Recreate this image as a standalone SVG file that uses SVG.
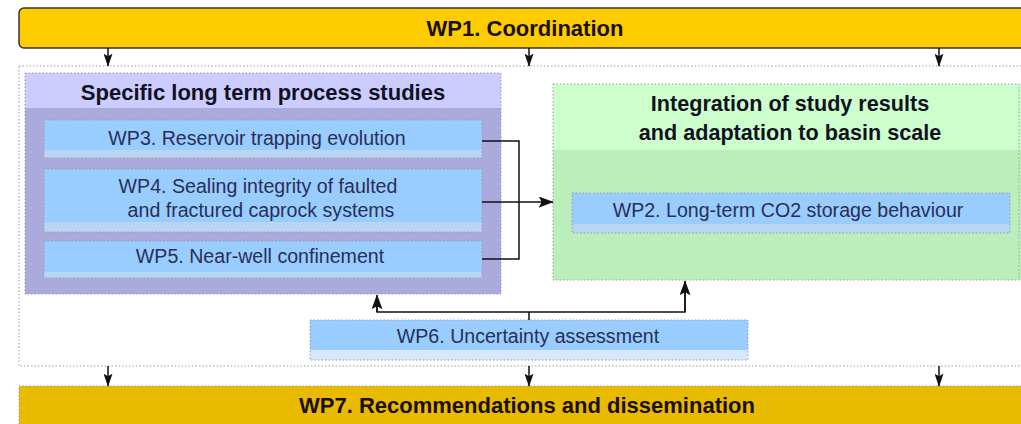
<svg xmlns="http://www.w3.org/2000/svg" width="1021" height="424" viewBox="0 0 1021 424">
<defs>
<style>
.t{font-family:"Liberation Sans",Arial,sans-serif;}
.bar{font-size:22px;font-weight:bold;fill:#1a0f00;}
.ttl{font-size:22px;font-weight:bold;fill:#111122;}
.ttl2{font-size:21.6px;font-weight:bold;fill:#111122;}
.wp{font-size:19.6px;fill:#2a2f55;}
.dot{fill:none;stroke:#9a9aaa;stroke-width:1;stroke-dasharray:1.5 2;}
.con{fill:none;stroke:#111;stroke-width:1.5;}
.wpbox{fill:#99CCFF;}
.wpfoot{fill:#B8D6F4;}
</style>
<marker id="ah" viewBox="0 0 10 10" refX="9.5" refY="5" markerWidth="13" markerHeight="9" orient="auto" markerUnits="userSpaceOnUse" preserveAspectRatio="none">
<path d="M0,0 L10,5 L0,10 L2,5 z" fill="#111"/>
</marker>
<marker id="ahs" viewBox="0 0 10 10" refX="9.5" refY="5" markerWidth="15" markerHeight="11" orient="auto" markerUnits="userSpaceOnUse" preserveAspectRatio="none">
<path d="M0,0 L10,5 L0,10 L2,5 z" fill="#111"/>
</marker>
</defs>
<rect width="1021" height="424" fill="#ffffff"/>

<g id="container">
<rect x="19" y="66" width="1010" height="300" class="dot" fill="#fff"/>
</g>

<g id="wp1">
<rect x="19" y="8" width="1012" height="40" rx="5" fill="#FFCC00" stroke="#333" stroke-width="1.5"/>
<text x="525" y="36" text-anchor="middle" class="t bar">WP1. Coordination</text>
</g>

<g id="wp7">
<rect x="19" y="386" width="1012" height="45" fill="#E8BA00"/>
<rect x="19" y="386" width="1012" height="45" class="dot" stroke="#c9a000"/>
<text x="527" y="413" text-anchor="middle" class="t bar">WP7. Recommendations and dissemination</text>
</g>

<g id="process-studies">
<rect x="25" y="73" width="476" height="221" fill="#AAAADD"/>
<rect x="25" y="73" width="476" height="35" fill="#CCCCFF"/>
<rect x="25" y="73" width="476" height="221" class="dot"/>
<text x="263" y="100" text-anchor="middle" class="t ttl">Specific long term process studies</text>
</g>

<g id="wp3">
<rect x="44" y="120" width="438" height="38" class="wpfoot"/>
<rect x="44" y="120" width="438" height="30" class="wpbox"/>
<rect x="44" y="120" width="438" height="38" class="dot"/>
<text x="257" y="145" text-anchor="middle" class="t wp">WP3. Reservoir trapping evolution</text>
</g>

<g id="wp4">
<rect x="44" y="169" width="438" height="63" class="wpfoot"/>
<rect x="44" y="169" width="438" height="53" class="wpbox"/>
<rect x="44" y="169" width="438" height="63" class="dot"/>
<text x="258" y="193" text-anchor="middle" class="t wp">WP4. Sealing integrity of faulted</text>
<text x="261" y="217" text-anchor="middle" class="t wp">and fractured caprock systems</text>
</g>

<g id="wp5">
<rect x="44" y="241" width="438" height="37" class="wpfoot"/>
<rect x="44" y="241" width="438" height="31" class="wpbox"/>
<rect x="44" y="241" width="438" height="37" class="dot"/>
<text x="260" y="263" text-anchor="middle" class="t wp">WP5. Near-well confinement</text>
</g>

<g id="integration">
<rect x="553" y="84" width="468" height="196" fill="#BBEEBB"/>
<rect x="553" y="84" width="468" height="66" fill="#CCFFCC"/>
<rect x="553" y="84" width="466" height="196" class="dot" stroke="#99bb99"/>
<text x="790" y="111" text-anchor="middle" class="t ttl2">Integration of study results</text>
<text x="790" y="140" text-anchor="middle" class="t ttl2">and adaptation to basin scale</text>
</g>

<g id="wp2">
<rect x="572" y="193" width="438" height="40" class="wpfoot"/>
<rect x="572" y="193" width="438" height="31" class="wpbox"/>
<rect x="572" y="193" width="438" height="40" class="dot"/>
<text x="788" y="217" text-anchor="middle" class="t wp">WP2. Long-term CO2 storage behaviour</text>
</g>

<g id="wp6">
<rect x="310" y="320" width="438" height="40" fill="#D6E8FA"/>
<rect x="310" y="320" width="438" height="30" class="wpbox"/>
<rect x="310" y="320" width="438" height="40" class="dot"/>
<text x="528" y="343" text-anchor="middle" class="t wp">WP6. Uncertainty assessment</text>
</g>

<g id="connectors">
<line x1="108" y1="48" x2="108" y2="66" class="con" marker-end="url(#ah)"/>
<line x1="529" y1="48" x2="529" y2="66" class="con" marker-end="url(#ah)"/>
<line x1="939" y1="48" x2="939" y2="66" class="con" marker-end="url(#ah)"/>
<line x1="108" y1="366" x2="108" y2="386" class="con" marker-end="url(#ah)"/>
<line x1="529" y1="366" x2="529" y2="386" class="con" marker-end="url(#ah)"/>
<line x1="939" y1="366" x2="939" y2="386" class="con" marker-end="url(#ah)"/>
<polyline points="482,141 519,141 519,259 482,259" class="con"/>
<line x1="482" y1="202" x2="553" y2="202" class="con" marker-end="url(#ahs)"/>
<line x1="529" y1="320" x2="529" y2="312" class="con"/>
<polyline points="377,305 377,312 685,312 685,292" class="con"/>
<line x1="377" y1="312" x2="377" y2="295" class="con" marker-end="url(#ahs)"/>
<line x1="685" y1="312" x2="685" y2="281" class="con" marker-end="url(#ahs)"/>
</g>
</svg>
